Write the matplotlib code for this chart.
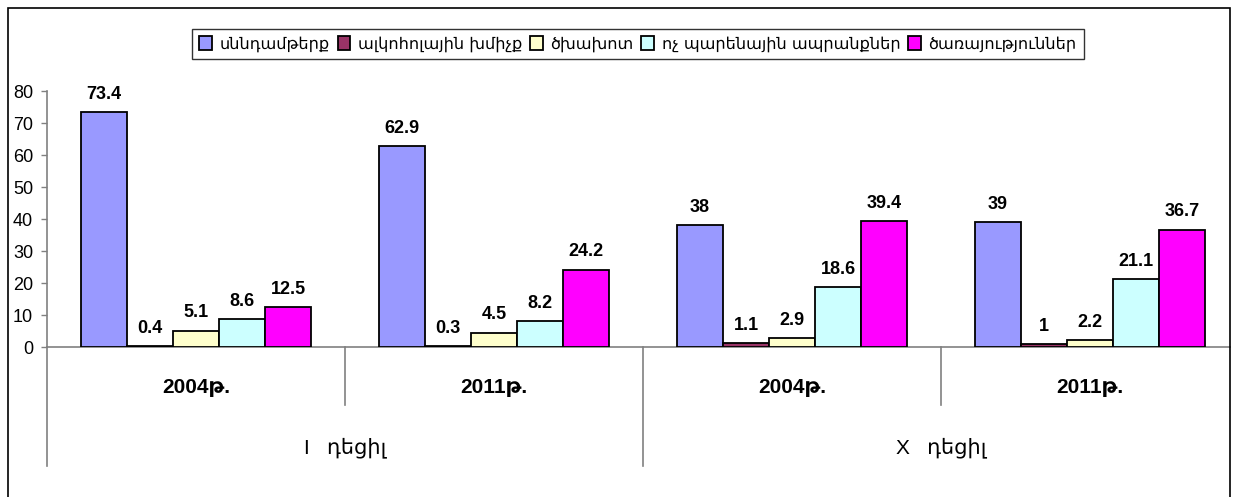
import matplotlib
matplotlib.use("Agg")
import matplotlib.pyplot as plt
from matplotlib.patches import Rectangle
from matplotlib.lines import Line2D
import numpy as np

series_names = ["սննդամթերք", "ալկոհոլային խմիչք", "ծխախոտ",
                "ոչ պարենային ապրանքներ", "ծառայություններ"]
year_labels = ["2004թ.", "2011թ.", "2004թ.", "2011թ."]
decile_roman = ["I", "X"]
decile_word = "դեցիլ"

food = [73.4, 62.9, 38, 39]
alcohol = [0.4, 0.3, 1.1, 1]
tobacco = [5.1, 4.5, 2.9, 2.2]
nonfood = [8.6, 8.2, 18.6, 21.1]
services = [12.5, 24.2, 39.4, 36.7]
yticks = [0, 10, 20, 30, 40, 50, 60, 70, 80]

colors = ["#9999FF", "#993366", "#FFFFCC", "#CCFFFF", "#FF00FF"]
series = [food, alcohol, tobacco, nonfood, services]

W, H = 1236, 497
fig = plt.figure(figsize=(W / 100, H / 100), dpi=100)
ax = fig.add_axes([47 / W, (H - 347) / H, (1239 - 47) / W, (347 - 91) / H])

FAM = ["Liberation Sans", "DejaVu Sans"]
n = len(series)
group_w = 0.772
bw = group_w / n
x = np.arange(len(food))
for i, (vals, c) in enumerate(zip(series, colors)):
    xs = x - group_w / 2 + bw * (i + 0.5)
    ax.bar(xs, vals, width=bw, color=c, edgecolor="black", linewidth=1.3,
           label=series_names[i], zorder=3)
    for xi, v in zip(xs, vals):
        ax.annotate(f"{v:g}", (xi, v), xytext=(0, 9.5), textcoords="offset points",
                    ha="center", va="baseline", fontsize=13, fontweight="bold",
                    family=FAM)

ax.set_xlim(-0.5, len(food) - 0.5)
ax.set_ylim(0, 80)
ax.set_yticks(yticks)
ax.set_yticklabels([str(t) for t in yticks], family=FAM, fontsize=13)
ax.tick_params(axis="y", length=4, width=1, color="#808080", pad=6)
ax.set_xticks([])
for s in ["top", "right"]:
    ax.spines[s].set_visible(False)
ax.spines["left"].set_color("#808080")
ax.spines["bottom"].set_color("#808080")
ax.spines["left"].set_linewidth(1.2)
ax.spines["bottom"].set_linewidth(1.2)
xr = ax.transData.inverted().transform((1230, 0))[0]
ax.spines["bottom"].set_bounds(-0.5, xr)

trans = ax.get_xaxis_transform()
for i, lab in enumerate(year_labels):
    ax.text(i, -0.16, lab, transform=trans, ha="center", va="center",
            fontsize=15, fontweight="bold", family=FAM)
for j, r in enumerate(decile_roman):
    ax.text(2 * j + 0.5, -0.395, f"{r}   {decile_word}", transform=trans,
            ha="center", va="center", fontsize=15, family=FAM)

for b in [0.5, 2.5]:
    ax.add_line(Line2D([b, b], [0, -0.227], transform=trans, color="#808080",
                       linewidth=1.2, clip_on=False))
for b in [-0.5, 1.5, 3.5]:
    ax.add_line(Line2D([b, b], [0, -0.465], transform=trans, color="#808080",
                       linewidth=1.2, clip_on=False))

leg = ax.legend(loc="upper left", bbox_to_anchor=(192 / W, (H - 29) / H),
                bbox_transform=fig.transFigure, ncol=5, frameon=True,
                fancybox=False, edgecolor="black",
                prop={"family": ["DejaVu Sans"], "size": 11.6},
                handlelength=0.8, handleheight=0.95, handletextpad=0.45,
                columnspacing=0.5, borderpad=0.45, borderaxespad=0)
leg.get_frame().set_linewidth(1.0)

fig.patches.append(Rectangle((8 / W, -0.01), (1230 - 8) / W, (H - 8) / H + 0.01,
                             transform=fig.transFigure, fill=False,
                             edgecolor="black", linewidth=1.2))

fig.savefig("out.png", dpi=100)
